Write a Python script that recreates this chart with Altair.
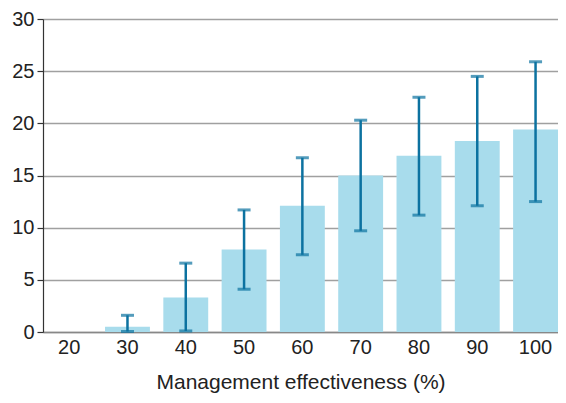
import altair as alt
import pandas as pd

categories = ["20", "30", "40", "50", "60", "70", "80", "90", "100"]
values = [0, 0.5, 3.3, 7.9, 12.1, 15.0, 16.9, 18.3, 19.4]
err_low = [None, 0.05, 0.1, 4.1, 7.4, 9.7, 11.2, 12.1, 12.5]
err_high = [None, 1.6, 6.6, 11.7, 16.7, 20.3, 22.5, 24.5, 25.9]

df = pd.DataFrame({"cat": categories, "value": values, "lo": err_low, "hi": err_high})
err = df.dropna()

FONT = "Liberation Sans"
ERR = "#0c72a0"

xscale = alt.Scale(paddingInner=0.23, paddingOuter=0.032, align=1)

x = alt.X("cat:N", sort=categories, title="Management effectiveness (%)",
          scale=xscale,
          axis=alt.Axis(labelAngle=0, ticks=False, labelPadding=5, labelFontSize=20,
                        titleFontSize=21, titlePadding=14, labelColor="#222", titleColor="#222",
                        titleFontWeight="normal", domainColor="#888", domainWidth=1.5,
                        labelFont=FONT, titleFont=FONT))

y_scale = alt.Scale(domain=[0, 30], nice=False)

bars = alt.Chart(df).mark_bar(color="#a8dcec").encode(
    x=x,
    y=alt.Y("value:Q", scale=y_scale, title=None,
            axis=alt.Axis(values=[0, 5, 10, 15, 20, 25, 30], grid=True, gridColor="#a0a0a0",
                          gridWidth=1.5, tickColor="#333", tickSize=6, tickWidth=1.2,
                          domainColor="#333", domainWidth=1.2, labelFontSize=20,
                          labelColor="#222", labelPadding=3, labelFont=FONT)),
)

rules = alt.Chart(err).mark_rule(color=ERR, strokeWidth=2.5).encode(
    x=alt.X("cat:N", sort=categories, scale=xscale),
    y=alt.Y("lo:Q", scale=y_scale),
    y2="hi:Q",
)

caps_hi = alt.Chart(err).mark_tick(color=ERR, thickness=3, size=13).encode(
    x=alt.X("cat:N", sort=categories, scale=xscale),
    y=alt.Y("hi:Q", scale=y_scale),
)
caps_lo = alt.Chart(err).mark_tick(color=ERR, thickness=3, size=13).encode(
    x=alt.X("cat:N", sort=categories, scale=xscale),
    y=alt.Y("lo:Q", scale=y_scale),
)

chart = alt.layer(bars, rules, caps_hi, caps_lo).properties(
    width=515, height=313,
    autosize=alt.AutoSizeParams(type="none"),
    padding={"left": 35, "top": 11, "right": 0, "bottom": 63},
).configure_view(stroke=None)

chart.save("out.html", embed_options={"renderer": "svg", "actions": False})
